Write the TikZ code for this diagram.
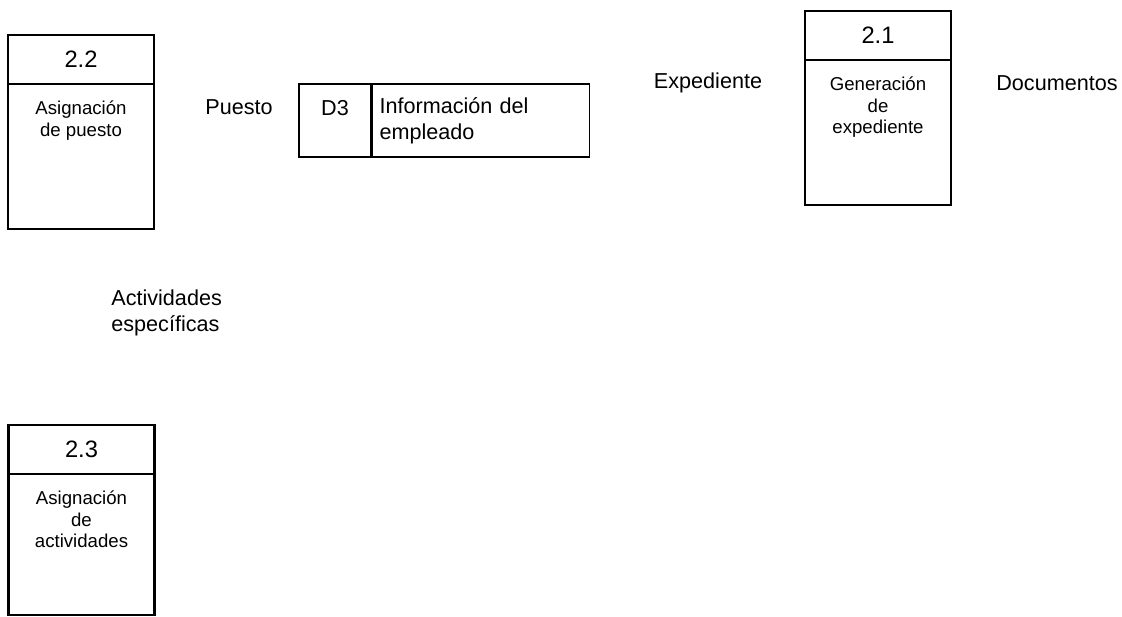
\documentclass[tikz,border=0pt]{standalone}
\usepackage{fontspec}
\setmainfont{Liberation Sans}
\usetikzlibrary{positioning}

\begin{document}
\begin{tikzpicture}[x=0.02cm,y=-0.02cm,
  proc/.style={draw,line width=1.5pt,minimum width=2.92cm,minimum height=3.88cm,inner sep=0pt},
  prochead/.style={draw,line width=1.5pt,minimum width=2.92cm,minimum height=0.98cm,inner sep=0pt,font=\fontsize{13.5}{16}\selectfont},
  proctext/.style={align=center,inner sep=0pt,font=\fontsize{10.6}{12.4}\selectfont},
  store/.style={draw,line width=0.9pt,minimum height=1.46cm,inner sep=0pt,font=\fontsize{12.3}{14.8}\selectfont},
  flow/.style={align=left,inner sep=0pt,font=\fontsize{12.3}{14.8}\selectfont}]

\useasboundingbox (0,0) rectangle (1122,617);

% procesos
\node[proc] (p22) at (81,132) {};
\node[prochead,anchor=north] (h22) at (p22.north) {2.2};
\node[proctext,anchor=north] (t22) at ([yshift=-0.3cm]h22.south) {Asignación\\de puesto};

\node[proc] (p21) at (878,108) {};
\node[prochead,anchor=north] (h21) at (p21.north) {2.1};
\node[proctext,anchor=north] (t21) at ([yshift=-0.3cm]h21.south) {Generación\\de\\expediente};

\node[proc,minimum height=3.8cm] (p23) at (81.5,520) {};
\node[prochead,anchor=north] (h23) at (p23.north) {2.3};
\node[proctext,anchor=north] (t23) at ([yshift=-0.3cm]h23.south) {Asignación\\de\\actividades};

% almacen
\node[store,minimum width=1.44cm,align=center] (d3) at (335,120.5) {D3\\\mbox{}};
\node[store,right=0pt of d3,inner xsep=0.14cm,text width=4.06cm,align=left] (ds) {Información del\\empleado};

% flujos
\node[flow] (fpuesto) at (239,107) {Puesto};
\node[flow] (fexp) at (708,83) {Expediente};
\node[flow] (fdoc) at (1057,83) {Documentos};
\node[flow,anchor=west] (fact) at (111,313) {Actividades\\específicas};

\end{tikzpicture}
\end{document}
